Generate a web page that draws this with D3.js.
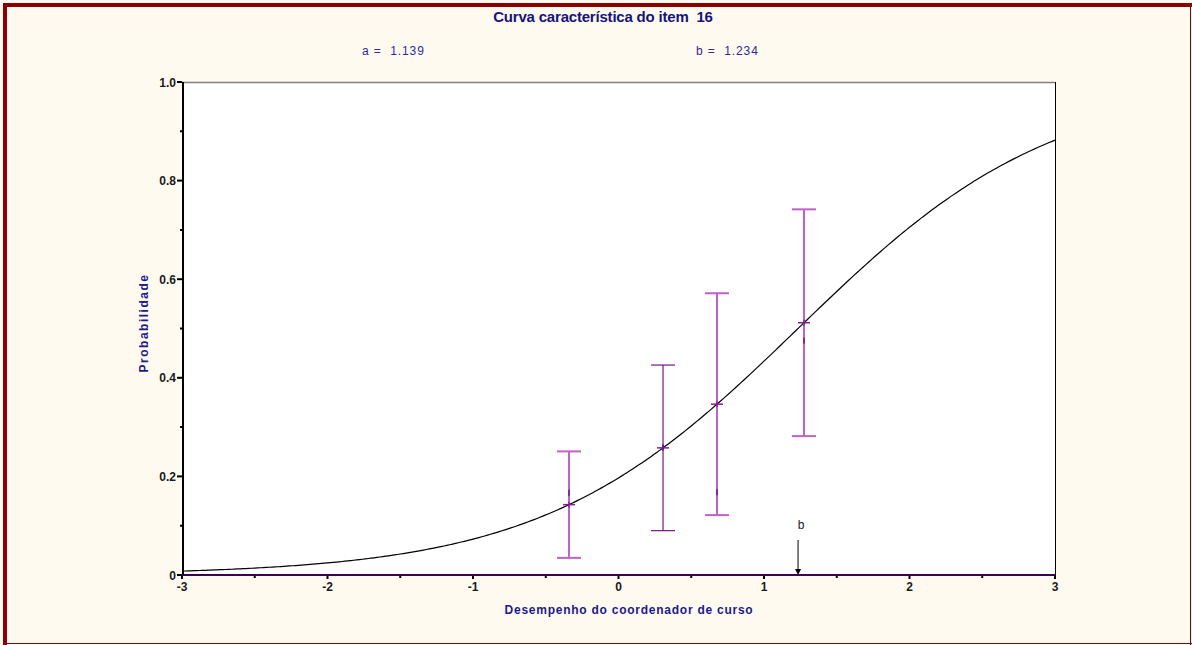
<!DOCTYPE html>
<html>
<head>
<meta charset="utf-8">
<script src="https://cdn.jsdelivr.net/npm/d3@7"></script>
<style>
  html, body { margin: 0; padding: 0; background: #fffaf0; }
  svg { display: block; }
  text { font-family: "Liberation Sans", Arial, sans-serif; }
</style>
</head>
<body>
<script>
// Item parameters (2PL logistic)
const itemA = 1.139;
const itemB = 1.234;

// Ability groups: mean ability, half-width of the interval, observed proportion
const groupTheta = [-0.34, 0.306, 0.677, 1.275];
const groupHalfWidth = [0.108, 0.168, 0.225, 0.230];
const groupObserved = [0.167, 0.259, 0.168, 0.475];

const xTicks = [-3, -2, -1, 0, 1, 2, 3];
const xTickLabels = ["-3", "-2", "-1", "0", "1", "2", "3"];
const yTicks = [0, 0.2, 0.4, 0.6, 0.8, 1.0];
const yTickLabels = ["0", "0.2", "0.4", "0.6", "0.8", "1.0"];

const W = 1192, H = 645;
const plotL = 182, plotR = 1055, plotT = 82, plotB = 575;

const svg = d3.select("body").append("svg").attr("width", W).attr("height", H);

// page frame
svg.append("rect").attr("x", 0).attr("y", 0).attr("width", W).attr("height", H).attr("fill", "#fffaf0");
svg.append("line").attr("x1", 3).attr("x2", W).attr("y1", 5).attr("y2", 5).attr("stroke", "#8b0000").attr("stroke-width", 4);
svg.append("line").attr("x1", 5).attr("x2", 5).attr("y1", 3).attr("y2", H).attr("stroke", "#8b0000").attr("stroke-width", 4);
svg.append("line").attr("x1", 1190.5).attr("x2", 1190.5).attr("y1", 3).attr("y2", H).attr("stroke", "#8b0000").attr("stroke-width", 1);
svg.append("line").attr("x1", 3).attr("x2", W).attr("y1", 643.5).attr("y2", 643.5).attr("stroke", "#8b0000").attr("stroke-width", 1);

const x = d3.scaleLinear().domain([-3, 3]).range([plotL, plotR]);
const y = d3.scaleLinear().domain([0, 1]).range([plotB, plotT]);

// plot area
svg.append("rect").attr("x", plotL).attr("y", plotT).attr("width", plotR - plotL).attr("height", plotB - plotT).attr("fill", "#ffffff");
svg.append("line").attr("x1", plotL).attr("x2", plotR).attr("y1", plotT + 0.5).attr("y2", plotT + 0.5).attr("stroke", "#808080").attr("stroke-width", 1.5);
svg.append("line").attr("x1", plotR + 0.5).attr("x2", plotR + 0.5).attr("y1", plotT).attr("y2", plotB).attr("stroke", "#000").attr("stroke-width", 1);

// title and parameters
svg.append("text").attr("x", 603).attr("y", 22).attr("text-anchor", "middle")
  .attr("font-size", 15).attr("font-weight", "bold").attr("fill", "#14147a").attr("letter-spacing", -0.2)
  .attr("xml:space", "preserve")
  .text("Curva característica do item  16");
svg.append("text").attr("x", 362).attr("y", 55).attr("font-size", 12).attr("fill", "#2a2a9a")
  .attr("letter-spacing", 0.9).attr("xml:space", "preserve").text("a =  " + itemA.toFixed(3));
svg.append("text").attr("x", 696).attr("y", 55).attr("font-size", 12).attr("fill", "#2a2a9a")
  .attr("letter-spacing", 0.9).attr("xml:space", "preserve").text("b =  " + itemB.toFixed(3));

// item characteristic curve
const P = t => 1 / (1 + Math.exp(-itemA * (t - itemB)));
const thetaGrid = d3.range(-3, 3.0001, 0.02);
svg.append("path").datum(thetaGrid)
  .attr("fill", "none").attr("stroke", "#000").attr("stroke-width", 1.2)
  .attr("d", d3.line().x(t => x(t)).y(t => y(P(t))));

// error bars for ability groups
const barColors = ["#c060c8", "#6e006e", "#c060c8", "#c060c8"];
const barWidths = [2, 1.1, 2, 2];
groupTheta.forEach((t, i) => {
  const c = P(t);
  const lo = c - groupHalfWidth[i], hi = c + groupHalfWidth[i];
  const g = svg.append("g").attr("stroke", barColors[i]).attr("stroke-width", barWidths[i]);
  const cx = x(t);
  g.append("line").attr("x1", cx).attr("x2", cx).attr("y1", y(hi)).attr("y2", y(lo));
  g.append("line").attr("x1", cx - 12).attr("x2", cx + 12).attr("y1", y(hi)).attr("y2", y(hi));
  g.append("line").attr("x1", cx - 12).attr("x2", cx + 12).attr("y1", y(lo)).attr("y2", y(lo));
  // expected value marker
  svg.append("line").attr("x1", cx - 6).attr("x2", cx + 6).attr("y1", y(c)).attr("y2", y(c))
    .attr("stroke", "#8a1a9a").attr("stroke-width", 1.5);
  svg.append("line").attr("x1", cx).attr("x2", cx).attr("y1", y(c) - 3).attr("y2", y(c) + 3)
    .attr("stroke", "#6a1080").attr("stroke-width", 1);
  // observed proportion marker
  svg.append("line").attr("x1", cx).attr("x2", cx).attr("y1", y(groupObserved[i]) - 3).attr("y2", y(groupObserved[i]) + 3)
    .attr("stroke", "#5a1a9a").attr("stroke-width", 1.5);
});

// difficulty marker
svg.append("text").attr("x", x(itemB) + 3).attr("y", 529).attr("text-anchor", "middle")
  .attr("font-size", 12).attr("fill", "#222").text("b");
svg.append("line").attr("x1", x(itemB)).attr("x2", x(itemB)).attr("y1", 540).attr("y2", plotB - 4)
  .attr("stroke", "#000").attr("stroke-width", 1);
svg.append("path").attr("d", `M${x(itemB) - 3},${plotB - 6}L${x(itemB) + 3},${plotB - 6}L${x(itemB)},${plotB}Z`)
  .attr("fill", "#000");

// y axis
const yMinor = d3.range(0.1, 1, 0.2);
yMinor.forEach(v => {
  svg.append("line").attr("x1", plotL - 2).attr("x2", plotL).attr("y1", y(v)).attr("y2", y(v)).attr("stroke", "#000").attr("stroke-width", 2);
});
yTicks.forEach((v, i) => {
  svg.append("line").attr("x1", plotL - 5).attr("x2", plotL).attr("y1", y(v)).attr("y2", y(v)).attr("stroke", "#000").attr("stroke-width", 2);
  svg.append("text").attr("x", plotL - 6).attr("y", y(v) + 4.5).attr("text-anchor", "end")
    .attr("font-size", 12).attr("font-weight", "bold").attr("fill", "#1a1a1a").text(yTickLabels[i]);
});
svg.append("line").attr("x1", plotL + 1).attr("x2", plotL + 1).attr("y1", plotT).attr("y2", plotB).attr("stroke", "#000").attr("stroke-width", 2);

// x axis
const xMinor = d3.range(-2.5, 3, 1);
xMinor.forEach(v => {
  svg.append("line").attr("x1", x(v)).attr("x2", x(v)).attr("y1", plotB).attr("y2", plotB + 3).attr("stroke", "#000").attr("stroke-width", 2);
});
xTicks.forEach((v, i) => {
  svg.append("line").attr("x1", x(v)).attr("x2", x(v)).attr("y1", plotB).attr("y2", plotB + 4).attr("stroke", "#000").attr("stroke-width", 2);
  svg.append("text").attr("x", x(v)).attr("y", plotB + 16).attr("text-anchor", "middle")
    .attr("font-size", 12).attr("font-weight", "bold").attr("fill", "#1a1a1a").text(xTickLabels[i]);
});
svg.append("line").attr("x1", plotL).attr("x2", plotR).attr("y1", plotB).attr("y2", plotB).attr("stroke", "#3c0050").attr("stroke-width", 2.2);

// axis titles
svg.append("text").attr("x", 629).attr("y", 614).attr("text-anchor", "middle")
  .attr("font-size", 12).attr("font-weight", "bold").attr("fill", "#1a1a8a").attr("letter-spacing", 0.75)
  .text("Desempenho do coordenador de curso");
svg.append("text").attr("transform", "translate(148,323) rotate(-90)").attr("text-anchor", "middle")
  .attr("font-size", 12).attr("font-weight", "bold").attr("fill", "#1a1a8a").attr("letter-spacing", 1.5)
  .text("Probabilidade");
</script>
</body>
</html>
